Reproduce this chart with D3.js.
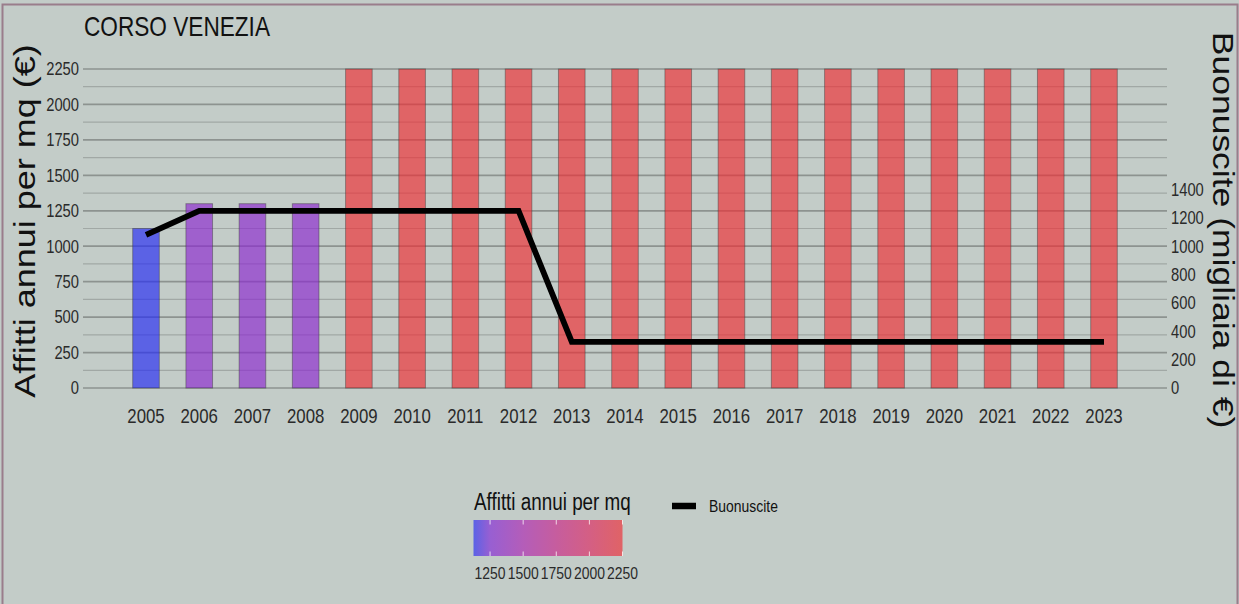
<!DOCTYPE html>
<html>
<head>
<meta charset="utf-8">
<script src="https://cdn.jsdelivr.net/npm/d3@7/dist/d3.min.js"></script>
<style>
  html, body { margin: 0; padding: 0; background: #c3ccc8; }
  svg { display: block; }
  text { font-family: "Liberation Sans", Arial, sans-serif; }
</style>
</head>
<body>
<svg id="chart" width="1239" height="604"></svg>
<script>
// ---------- DATA ----------
const title = "CORSO VENEZIA";
const years = ["2005","2006","2007","2008","2009","2010","2011","2012","2013","2014",
               "2015","2016","2017","2018","2019","2020","2021","2022","2023"];
const affitti = [1125,1300,1300,1300,2250,2250,2250,2250,2250,2250,
                 2250,2250,2250,2250,2250,2250,2250,2250,2250];
const buonuscite = [1080,1250,1250,1250,1250,1250,1250,1250,325,325,
                    325,325,325,325,325,325,325,325,325];
const leftTicks = [0,250,500,750,1000,1250,1500,1750,2000,2250];
const leftMinor = [125,375,625,875,1125,1375,1625,1875,2125];
const rightTicks = [0,200,400,600,800,1000,1200,1400];
const legendTicks = [1250,1500,1750,2000,2250];
const colorStops = [1125,1250,1500,1750,2000,2250];
const colorRange = ["#5b62e6","#985fd2","#b45db9","#c65d9e","#d45f84","#e06366"];
const leftTitle = "Affitti annui per mq (€)";
const rightTitle = "Buonuscite (migliaia di €)";
const legendTitle = "Affitti annui per mq";
const lineLegend = "Buonuscite";

// ---------- SETUP ----------
const W = 1239, H = 604;
const BG = "#c3ccc8";
const SQ = 0.82; // horizontal text compression
const svg = d3.select("#chart");

svg.append("rect").attr("x",0).attr("y",0).attr("width",W).attr("height",H).attr("fill",BG);
// frame border
svg.append("path").attr("d",`M2.5,${H} L2.5,4.5 L1237.5,4.5 L1237.5,${H}`)
  .attr("fill","none").attr("stroke","#9a7d8b").attr("stroke-width",2);

const x0 = 83, x1 = 1167;
const x = d3.scalePoint().domain(years).range([146, 1104]);
const step = x.step();
const barW = step * 0.5;
const y = d3.scaleLinear().domain([0, 2250]).range([388, 69]);
const yR = d3.scaleLinear().domain([0, 2250]).range([388, 69]);
const color = d3.scaleLinear().domain(colorStops).range(colorRange).interpolate(d3.interpolateRgb);

function hText(g, txt, tx, ty, size, anchor, fill) {
  return g.append("text")
    .attr("transform", `translate(${tx},${ty}) scale(${SQ},1)`)
    .attr("text-anchor", anchor || "start")
    .attr("font-size", size)
    .attr("fill", fill || "#222")
    .text(txt);
}

// gridlines
const grid = svg.append("g");
grid.selectAll("line.minor").data(leftMinor).join("line")
  .attr("x1", x0).attr("x2", x1)
  .attr("y1", d => y(d)).attr("y2", d => y(d))
  .attr("stroke", "#a1a8a5").attr("stroke-width", 1.2);
grid.selectAll("line.major").data(leftTicks).join("line")
  .attr("x1", x0).attr("x2", x1)
  .attr("y1", d => y(d)).attr("y2", d => y(d))
  .attr("stroke", "#8d9390").attr("stroke-width", 1.7);

// bars (semi-transparent)
const ALPHA = 0.66;
const bgc = d3.rgb(BG);
function preAlpha(target) {
  const t = d3.rgb(target);
  const f = (c, b) => Math.max(0, Math.min(255, (c - (1 - ALPHA) * b) / ALPHA));
  return d3.rgb(f(t.r, bgc.r), f(t.g, bgc.g), f(t.b, bgc.b)).toString();
}
svg.append("g").selectAll("rect").data(years).join("rect")
  .attr("x", d => x(d) - barW / 2)
  .attr("width", barW)
  .attr("y", (d, i) => y(affitti[i]))
  .attr("height", (d, i) => y(0) - y(affitti[i]))
  .attr("fill", (d, i) => preAlpha(color(affitti[i])))
  .attr("fill-opacity", ALPHA)
  .attr("stroke", "rgba(60,60,60,0.45)")
  .attr("stroke-width", 1);

// line
const line = d3.line().x((d, i) => x(years[i])).y(d => yR(d)).curve(d3.curveLinear);
svg.append("path").datum(buonuscite)
  .attr("d", line)
  .attr("fill", "none").attr("stroke", "#000").attr("stroke-width", 5.8)
  .attr("stroke-linejoin", "miter").attr("stroke-linecap", "butt");

// axes labels
const ax = svg.append("g");
leftTicks.forEach(t => hText(ax, t, 79, y(t) + 6.3, 18, "end", "#2a2a2a"));
rightTicks.forEach(t => hText(ax, t, 1171, yR(t) + 6.3, 18, "start", "#2a2a2a"));
years.forEach(yr => hText(ax, yr, x(yr), 423, 20.5, "middle", "#2a2a2a"));

// title
hText(svg, title, 84, 36, 27.6, "start", "#111");

// axis titles
svg.append("text")
  .attr("transform", `translate(35,221) scale(${SQ},1) rotate(-90)`)
  .attr("text-anchor", "middle").attr("font-size", 36).attr("fill", "#111")
  .text(leftTitle);
svg.append("text")
  .attr("transform", `translate(1213,230) scale(${SQ},1) rotate(90)`)
  .attr("text-anchor", "middle").attr("font-size", 35.5).attr("fill", "#111")
  .text(rightTitle);

// legend: colorbar
const lg = svg.append("g");
hText(lg, legendTitle, 474, 510, 23, "start", "#111");
const lx = d3.scaleLinear().domain([colorStops[0], colorStops[colorStops.length - 1]]).range([473.5, 622.5]);
const defs = svg.append("defs");
const grad = defs.append("linearGradient").attr("id", "cbar").attr("x1", "0%").attr("x2", "100%");
colorStops.forEach((v, i) => {
  grad.append("stop")
    .attr("offset", ((v - colorStops[0]) / (colorStops[colorStops.length - 1] - colorStops[0]) * 100) + "%")
    .attr("stop-color", colorRange[i]);
});
lg.append("rect").attr("x", lx.range()[0]).attr("y", 520)
  .attr("width", lx.range()[1] - lx.range()[0]).attr("height", 36)
  .attr("fill", "url(#cbar)");
legendTicks.forEach(t => {
  lg.append("line").attr("x1", lx(t)).attr("x2", lx(t)).attr("y1", 520).attr("y2", 524.5)
    .attr("stroke", "rgba(255,255,255,0.75)").attr("stroke-width", 1);
  lg.append("line").attr("x1", lx(t)).attr("x2", lx(t)).attr("y1", 551.5).attr("y2", 556)
    .attr("stroke", "rgba(255,255,255,0.75)").attr("stroke-width", 1);
  hText(lg, t, lx(t), 579, 17, "middle", "#2a2a2a");
});

// legend: line
lg.append("line").attr("x1", 672).attr("x2", 696).attr("y1", 506).attr("y2", 506)
  .attr("stroke", "#000").attr("stroke-width", 6.5);
hText(lg, lineLegend, 709, 512, 17, "start", "#111");
</script>
</body>
</html>
